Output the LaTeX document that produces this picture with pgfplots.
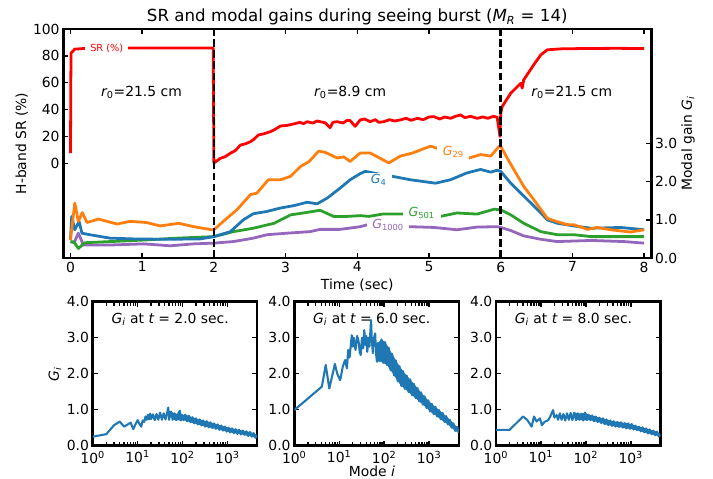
\documentclass[border=0pt]{standalone}
\usepackage{fontspec}
\setmainfont{DejaVu Sans}
\usepackage{pgfplots}
\pgfplotsset{compat=1.18}
\definecolor{mplblue}{HTML}{1F77B4}
\definecolor{mplorange}{HTML}{FF7F0E}
\definecolor{mplgreen}{HTML}{2CA02C}
\definecolor{mplpurple}{HTML}{9467BD}
\newcommand{\mi}[1]{{\itshape #1}}
\tikzset{glab/.style={fill=white, inner xsep=4pt, inner ysep=1pt, font=\fontsize{9}{10}\selectfont}}
\pgfplotsset{
  mplbox/.style={scale only axis, anchor=south west,
    axis line style={line width=1.8pt}, tick align=inside,
    major tick length=3.5pt, every tick/.style={black, line width=1pt},
    tick label style={inner sep=2.5pt},
    /pgf/number format/assume math mode=true},
  gpanel/.style={mplbox, width=118.44pt, height=103.68pt,
    xmin=1, xmax=4571, ymin=0, ymax=4,
    xtick={1,10,100,1000},
    xticklabels={10\textsuperscript{0},10\textsuperscript{1},10\textsuperscript{2},10\textsuperscript{3}},
    xticklabel style={inner ysep=3.5pt},
    minor xtick={}, ytick={0,1,2,3,4},
    yticklabel style={/pgf/number format/.cd, fixed, fixed zerofill, precision=1},
    xtick pos=both, ytick pos=both, xticklabel pos=bottom, yticklabel pos=left}
}
\begin{document}
\begin{tikzpicture}
\path[use as bounding box] (0,0) rectangle (513.36pt,344.88pt);

% Strehl ratio, left axis
\begin{axis}[mplbox, at={(45.58pt,159.12pt)}, width=423.36pt, height=164.88pt,
  xmin=-0.1, xmax=8.1, ymin=-70.5, ymax=100,
  xtick={0,1,...,8}, ytick={0,20,...,100},
  xtick pos=both, ytick pos=left, xticklabel pos=bottom]
\addplot[red, line width=2pt, line join=round] coordinates {
 (0.0,7.5) (0.007,82) (0.06,85) (0.2,85.5) (0.5,85.7) (0.81,85.8) (1.2,85.8) (1.6,85.9) (1.99,85.8)
 (2.0,0.2) (2.09,3.7) (2.16,5.0) (2.23,7.5) (2.30,9.5) (2.37,13.6) (2.44,14.5) (2.51,16.1) (2.56,18.0)
 (2.62,21.1) (2.70,22.0) (2.79,23.6) (2.86,25.5) (2.93,27.8) (3.02,28.2) (3.11,29.3) (3.2,30.5)
 (3.25,29.5) (3.3,31.0) (3.38,30.0) (3.44,31.5) (3.48,31.0) (3.55,30.2) (3.62,26.5) (3.66,30.5)
 (3.72,31.0) (3.8,30.0) (3.86,32.0) (3.90,31.8) (3.97,27.5) (4.04,32.3) (4.1,33.0) (4.18,31.0)
 (4.25,32.5) (4.3,30.5) (4.37,31.0) (4.45,32.5) (4.52,31.5) (4.60,32.3) (4.68,33.5) (4.75,32.0)
 (4.84,33.5) (4.92,32.5) (5.0,34.5) (5.07,34.7) (5.15,33.0) (5.22,34.5) (5.30,33.5) (5.37,35.0)
 (5.44,36.0) (5.5,34.0) (5.58,35.0) (5.67,33.5) (5.75,34.5) (5.82,33.5) (5.9,35.0) (5.95,34.3)
 (5.99,20) (6.0,37) (6.02,42.2) (6.14,52.2) (6.28,59.6) (6.30,56) (6.32,62.1) (6.46,73.3)
 (6.56,80.8) (6.65,84.5) (6.84,85.2) (7.2,85.5) (7.6,85.6) (8.0,85.5)};
\node[fill=white, text=red, inner xsep=3.7pt, inner ysep=1pt, font=\fontsize{7}{8}\selectfont]
  at (axis cs:0.505,85.8) {SR (\%)};
\node[anchor=base] at (axis cs:0.99,49.7) {\mi{r}\textsubscript{0}=21.5 cm};
\node[anchor=base] at (axis cs:3.9,49.7) {\mi{r}\textsubscript{0}=8.9 cm};
\node[anchor=base] at (axis cs:6.99,49.7) {\mi{r}\textsubscript{0}=21.5 cm};
\end{axis}

% modal gains, right axis
\begin{axis}[mplbox, at={(45.58pt,159.12pt)}, width=423.36pt, height=164.88pt,
  xmin=-0.1, xmax=8.1, ymin=0, ymax=6, xtick=\empty, ytick={0,1,2,3},
  ytick pos=right, yticklabel pos=right,
  yticklabel style={/pgf/number format/.cd, fixed, fixed zerofill, precision=1}]
\addplot[mplpurple, line width=2pt, line join=round] coordinates {
 (0.0,0.43) (0.05,0.40) (0.11,0.65) (0.18,0.34) (0.55,0.34) (1.02,0.37) (1.39,0.32) (1.72,0.37)
 (2.0,0.39) (2.27,0.43) (2.55,0.52) (2.74,0.61) (3.02,0.65) (3.34,0.69) (3.48,0.75) (3.76,0.75)
 (4.04,0.82) (4.14,0.87) (4.43,0.85) (4.74,0.82) (5.07,0.80) (5.39,0.74) (5.67,0.81) (5.95,0.82)
 (6.0,0.80) (6.14,0.72) (6.32,0.58) (6.56,0.49) (6.79,0.43) (7.26,0.46) (7.72,0.43) (8.0,0.39)};
\addplot[mplgreen, line width=2pt, line join=round] coordinates {
 (0.0,0.43) (0.05,0.42) (0.11,0.25) (0.2,0.40) (0.55,0.43) (1.02,0.47) (1.48,0.52) (2.0,0.56)
 (2.27,0.69) (2.55,0.78) (2.84,0.91) (3.07,1.13) (3.25,1.18) (3.48,1.25) (3.67,1.09) (3.86,1.09)
 (4.04,1.11) (4.16,1.09) (4.35,1.15) (4.65,1.15) (4.90,1.12) (5.16,1.09) (5.39,1.18) (5.67,1.15)
 (5.91,1.28) (6.0,1.26) (6.14,1.13) (6.32,0.91) (6.56,0.69) (6.79,0.61) (7.02,0.61) (7.26,0.56)
 (7.72,0.56) (8.0,0.56)};
\addplot[mplblue, line width=2pt, line join=round] coordinates {
 (0.0,0.50) (0.017,1.09) (0.06,0.74) (0.12,0.96) (0.16,0.65) (0.27,0.61) (0.55,0.52) (0.88,0.50)
 (1.34,0.49) (1.81,0.50) (2.0,0.56) (2.23,0.69) (2.41,1.0) (2.55,1.16) (2.74,1.22) (2.93,1.31)
 (3.11,1.37) (3.30,1.46) (3.44,1.42) (3.58,1.57) (3.76,1.83) (3.90,2.05) (4.04,2.21) (4.11,2.27)
 (4.30,2.2) (4.49,2.14) (4.74,2.05) (5.09,1.96) (5.30,2.05) (5.53,2.23) (5.72,2.32) (5.86,2.25)
 (5.95,2.30) (6.0,2.27) (6.14,1.96) (6.28,1.70) (6.42,1.44) (6.56,1.18) (6.65,1.0) (6.79,0.91)
 (7.02,0.84) (7.26,0.78) (7.67,0.80) (8.0,0.74)};
\addplot[mplorange, line width=2pt, line join=round] coordinates {
 (0.0,0.47) (0.06,1.44) (0.11,0.96) (0.165,1.19) (0.23,0.93) (0.39,1.02) (0.65,0.89) (0.83,0.96)
 (1.06,0.93) (1.25,0.84) (1.51,0.91) (1.72,0.82) (1.97,0.74) (2.0,0.74) (2.18,1.04) (2.32,1.26)
 (2.51,1.66) (2.6,1.70) (2.76,2.05) (2.93,2.05) (3.07,2.14) (3.21,2.40) (3.33,2.53) (3.46,2.80)
 (3.55,2.77) (3.72,2.62) (3.81,2.65) (3.90,2.53) (4.04,2.75) (4.18,2.75) (4.44,2.49) (4.60,2.67)
 (4.77,2.75) (5.02,2.93) (5.14,2.86) (5.35,2.75) (5.56,2.62) (5.72,2.71) (5.86,2.67) (5.98,2.93)
 (6.0,2.93) (6.09,2.62) (6.21,2.23) (6.32,1.88) (6.46,1.53) (6.65,1.04) (6.74,0.98) (6.93,0.87)
 (7.02,0.87) (7.21,0.75) (7.35,0.80) (7.53,0.74) (7.81,0.68) (8.0,0.74)};
\node[glab, text=mplorange] at (axis cs:5.34,2.77) {\mi{G}\textsubscript{29}};
\node[glab, text=mplblue] at (axis cs:4.30,2.05) {\mi{G}\textsubscript{4}};
\node[glab, text=mplgreen] at (axis cs:4.90,1.17) {\mi{G}\textsubscript{501}};
\node[glab, text=mplpurple] at (axis cs:4.43,0.87) {\mi{G}\textsubscript{1000}};
\addplot[black, line width=2pt, dash pattern=on 5.5pt off 2.5pt] coordinates {(2,0) (2,6)};
\addplot[black, line width=2pt, dash pattern=on 5.5pt off 2.5pt] coordinates {(6,0) (6,6)};
\end{axis}

% gains versus mode number
\begin{semilogxaxis}[gpanel, at={(66.74pt,23.98pt)}]
\addplot[fill=mplblue, draw=none] coordinates {
 (55,0.95) (66.1,0.90) (79.4,0.88) (87.1,0.97) (95.5,0.86) (115,0.86) (138,0.83) (166,0.79) (200,0.76)
 (240,0.73) (288,0.70) (347,0.68) (417,0.65) (501,0.62) (603,0.59) (724,0.56) (871,0.53) (1047,0.50)
 (1259,0.48) (1514,0.46) (1820,0.44) (2188,0.42) (2630,0.40) (3162,0.38) (3802,0.35) (4571,0.30)
 (4571,0.24) (4169,0.22) (3467,0.25) (2884,0.27) (2399,0.30) (1995,0.31) (1660,0.33) (1380,0.35)
 (1148,0.37) (955,0.39) (794,0.42) (661,0.44) (550,0.47) (457,0.49) (380,0.51) (316,0.53) (263,0.56)
 (219,0.59) (182,0.62) (151,0.65) (126,0.68) (105,0.71) (91,0.70) (72.4,0.71) (60.3,0.72)} -- cycle;
\addplot[mplblue, line width=1.5pt, line join=round] coordinates {
 (1,0.25) (2,0.32) (3,0.57) (4,0.67) (5,0.53) (6,0.59) (7,0.64) (8,0.46) (9,0.6) (10,0.71) (11,0.6)
 (12,0.53) (13,0.7) (14,0.66) (15,0.81) (16,0.72) (17,0.86) (18,0.73) (19,0.89) (20,0.74) (21.9,0.87)
 (24,0.71) (26.3,0.88) (28.8,0.72) (31.6,0.92) (34.7,0.72) (38,0.90) (41.7,0.73) (45.7,0.93) (48,1.06)
 (50.1,0.72) (55,0.95) (60.3,0.72) (66.1,0.90) (72.4,0.71) (79.4,0.88) (87.1,0.97) (91,0.70) (95.5,0.86)
 (105,0.71) (115,0.86) (126,0.68) (138,0.83) (151,0.65) (166,0.79) (182,0.62) (200,0.76) (219,0.59)
 (240,0.73) (263,0.56) (288,0.70) (316,0.53) (347,0.68) (380,0.51) (417,0.65) (457,0.49) (501,0.62)
 (550,0.47) (603,0.59) (661,0.44) (724,0.56) (794,0.42) (871,0.53) (955,0.39) (1047,0.50) (1148,0.37)
 (1259,0.48) (1380,0.35) (1514,0.46) (1660,0.33) (1820,0.44) (1995,0.31) (2188,0.42) (2399,0.30)
 (2630,0.40) (2884,0.27) (3162,0.38) (3467,0.25) (3802,0.35) (4169,0.22) (4571,0.27)};
\node[anchor=base west] at (rel axis cs:0.085,0.85) {\mi{G}\textsubscript{\mi{i}} at \mi{t} = 2.0 sec.};
\end{semilogxaxis}

\begin{semilogxaxis}[gpanel, at={(211.9pt,23.98pt)}]
\addplot[fill=mplblue, draw=none] coordinates {
 (72.4,2.85) (87.1,2.95) (105,2.88) (126,2.72) (151,2.55) (182,2.37) (219,2.21) (263,2.07) (316,1.95)
 (380,1.84) (457,1.72) (550,1.60) (661,1.48) (794,1.37) (955,1.26) (1148,1.16) (1380,1.08) (1660,0.99)
 (1995,0.91) (2399,0.82) (2884,0.72) (3467,0.62) (4169,0.52) (4571,0.45)
 (4571,0.36) (3802,0.41) (3162,0.50) (2630,0.59) (2188,0.66) (1820,0.73) (1514,0.81) (1259,0.88)
 (1047,0.95) (871,1.05) (724,1.14) (603,1.23) (501,1.32) (417,1.40) (347,1.49) (288,1.58) (240,1.66)
 (200,1.79) (166,1.95) (138,2.10) (115,2.24) (95.5,2.30) (79.4,2.35) (69,2.33)} -- cycle;
\addplot[mplblue, line width=1.5pt, line join=round] coordinates {
 (1,0.99) (4.1,1.64) (5,2.24) (6,1.59) (7,1.95) (8,2.27) (9,2.0) (10.5,1.82) (12,2.2) (13.5,2.38)
 (14.8,2.15) (15.8,2.66) (17,2.45) (19,3.07) (20,2.75) (21,3.0) (23,2.66) (25,3.05) (27,2.89)
 (28.5,2.6) (30,2.52) (32,3.0) (34,2.7) (36,3.21) (38,2.8) (40,3.05) (42,2.61) (45,3.0) (47,2.75)
 (51,3.49) (53,2.95) (56,2.57) (58,2.95) (63,3.12) (66,2.55) (69,2.33) (72.4,2.85) (79.4,2.35)
 (87.1,2.95) (95.5,2.30) (105,2.88) (115,2.24) (126,2.72) (138,2.10) (151,2.55) (166,1.95) (182,2.37)
 (200,1.79) (219,2.21) (240,1.66) (263,2.07) (288,1.58) (316,1.95) (347,1.49) (380,1.84) (417,1.40)
 (457,1.72) (501,1.32) (550,1.60) (603,1.23) (661,1.48) (724,1.14) (794,1.37) (871,1.05) (955,1.26)
 (1047,0.95) (1148,1.16) (1259,0.88) (1380,1.08) (1514,0.81) (1660,0.99) (1820,0.73) (1995,0.91)
 (2188,0.66) (2399,0.82) (2630,0.59) (2884,0.72) (3162,0.50) (3467,0.62) (3802,0.41) (4169,0.52)
 (4571,0.36)};
\node[anchor=base west] at (rel axis cs:0.085,0.85) {\mi{G}\textsubscript{\mi{i}} at \mi{t} = 6.0 sec.};
\end{semilogxaxis}

\begin{semilogxaxis}[gpanel, at={(357.12pt,23.98pt)}]
\addplot[fill=mplblue, draw=none] coordinates {
 (55,0.92) (66.1,0.90) (79.4,0.89) (95.5,0.92) (115,0.86) (138,0.84) (166,0.81) (200,0.78) (240,0.76)
 (288,0.73) (347,0.70) (417,0.68) (501,0.66) (603,0.65) (724,0.63) (871,0.62) (1047,0.60) (1259,0.56)
 (1514,0.53) (1820,0.51) (2188,0.48) (2630,0.45) (3162,0.42) (3802,0.39) (4571,0.33)
 (4571,0.27) (4169,0.26) (3467,0.29) (2884,0.32) (2399,0.34) (1995,0.37) (1660,0.40) (1380,0.43)
 (1148,0.45) (955,0.47) (794,0.48) (661,0.50) (550,0.52) (457,0.53) (380,0.55) (316,0.57) (263,0.60)
 (219,0.63) (182,0.66) (151,0.68) (126,0.71) (105,0.71) (87.1,0.70) (72.4,0.72) (60.3,0.71)} -- cycle;
\addplot[mplblue, line width=1.5pt, line join=round] coordinates {
 (1,0.44) (2,0.44) (4,0.81) (5,0.71) (6.2,0.53) (7,0.81) (8,0.67) (9.5,0.76) (10.5,0.57) (12,0.66)
 (14.5,0.71) (16,0.80) (18.6,0.99) (20,0.78) (22.4,0.85) (24,0.72) (26.3,0.90) (28.8,0.72) (31.6,0.88)
 (34.7,0.70) (38,0.90) (41.7,0.72) (45.7,0.91) (50.1,0.71) (55,0.92) (60.3,0.71) (66.1,0.90) (72.4,0.72)
 (79.4,0.89) (87.1,0.70) (95.5,0.92) (105,0.71) (115,0.86) (126,0.71) (138,0.84) (151,0.68) (166,0.81)
 (182,0.66) (200,0.78) (219,0.63) (240,0.76) (263,0.60) (288,0.73) (316,0.57) (347,0.70) (380,0.55)
 (417,0.68) (457,0.53) (501,0.66) (550,0.52) (603,0.65) (661,0.50) (724,0.63) (794,0.48) (871,0.62)
 (955,0.47) (1047,0.60) (1148,0.45) (1259,0.56) (1380,0.43) (1514,0.53) (1660,0.40) (1820,0.51)
 (1995,0.37) (2188,0.48) (2399,0.34) (2630,0.45) (2884,0.32) (3162,0.42) (3467,0.29) (3802,0.39)
 (4169,0.26) (4571,0.30)};
\node[anchor=base west] at (rel axis cs:0.085,0.85) {\mi{G}\textsubscript{\mi{i}} at \mi{t} = 8.0 sec.};
\end{semilogxaxis}

% titles and axis labels
\node[anchor=base, font=\fontsize{12}{14}\selectfont] at (257.26pt,329.04pt)
  {SR and modal gains during seeing burst (\mi{M}\textsubscript{\mi{R}} = 14)};
\node[rotate=90] at (15.62pt,241.56pt) {H-band SR (\%)};
\node[rotate=90] at (495.36pt,241.56pt) {Modal gain \mi{G}\textsubscript{\mi{i}}};
\node at (257.26pt,139.68pt) {Time (sec)};
\node[rotate=90] at (39.6pt,75.6pt) {\mi{G}\textsubscript{\mi{i}}};
\node at (267.8pt,5.26pt) {Mode \mi{i}};
\end{tikzpicture}
\end{document}
